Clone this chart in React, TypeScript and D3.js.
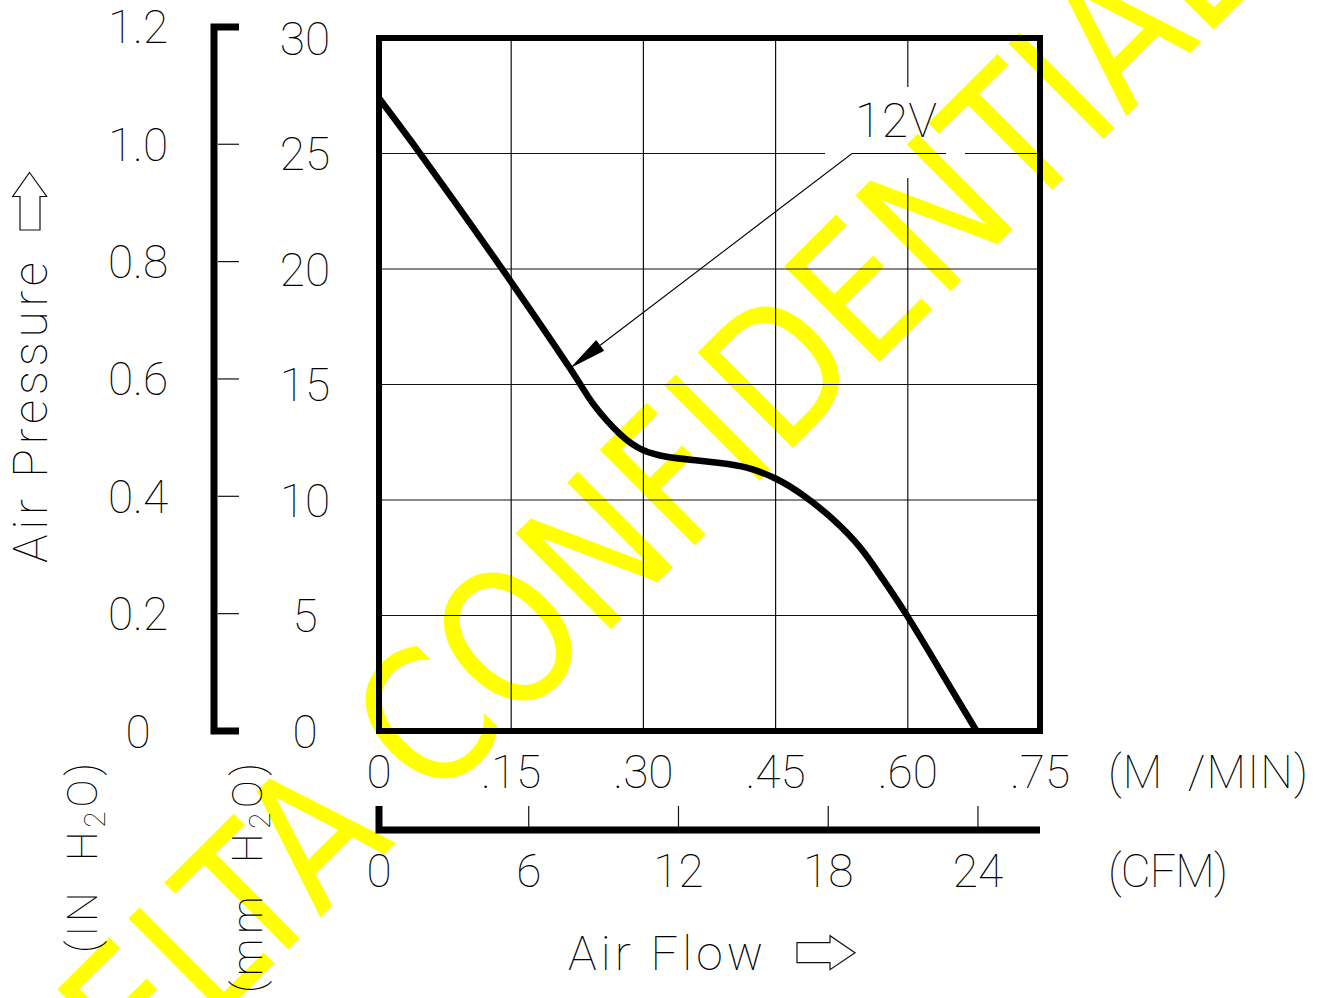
import React from 'react';
import * as d3 from 'd3';

// ---- data ----
const flowM3min = [0, 0.039, 0.088, 0.147, 0.2167, 0.2432, 0.2735, 0.30, 0.3264, 0.3566, 0.3869, 0.4172, 0.4493, 0.4814, 0.5155, 0.5458, 0.5685, 0.60, 0.644, 0.678];
const pressureMmH2O = [27.4, 25.4, 22.8, 19.6, 15.7, 14.15, 12.85, 12.15, 11.87, 11.73, 11.6, 11.4, 10.94, 10.2, 9.15, 7.95, 6.75, 4.94, 2.16, 0];
const flowTicks = [0, 0.15, 0.30, 0.45, 0.60, 0.75];
const flowTickLabels = ['0', '.15', '.30', '.45', '.60', '.75'];
const mmTicks = [0, 5, 10, 15, 20, 25, 30];
const inchTicks = [0, 0.2, 0.4, 0.6, 0.8, 1.0, 1.2];
const inchTickLabels = ['0', '0.2', '0.4', '0.6', '0.8', '1.0', '1.2'];
const cfmTicks = [0, 6, 12, 18, 24];
const curveLabel = '12V';
const annotFlow = 0.2167;
const annotPressure = 15.7;
const watermarkText = 'DELTA CONFIDENTIAL';

const FONT = "Roboto, 'DejaVu Sans', sans-serif";
const FW = 100;

export default function App() {
  const W = 1326, H = 998;
  const x = d3.scaleLinear().domain([0, 0.75]).range([379, 1040]);
  const y = d3.scaleLinear().domain([0, 30]).range([731, 38]);
  const yIn = (v: number) => y(v * 25.4);
  const xCfm = (v: number) => x(v * 0.0283168);

  const pts: [number, number][] = flowM3min.map((f, i) => [x(f), y(pressureMmH2O[i])]);
  const curvePath = d3.line().curve(d3.curveNatural)(pts) || '';

  // label box that interrupts grid lines
  const lb = { x0: 825, x1: 965, y0: 87, y1: 178 };
  const gridV = flowTicks.slice(1, -1);
  const gridH = mmTicks.slice(1, -1);

  const vSegs: [number, number, number, number][] = [];
  gridV.forEach((v) => {
    const px = x(v);
    if (px > lb.x0 && px < lb.x1) {
      vSegs.push([px, y(30), px, lb.y0]);
      vSegs.push([px, lb.y1, px, y(0)]);
    } else vSegs.push([px, y(30), px, y(0)]);
  });
  gridH.forEach((m) => {
    const py = y(m);
    if (py > lb.y0 && py < lb.y1) {
      vSegs.push([x(0), py, lb.x0, py]);
      vSegs.push([lb.x1, py, x(0.75), py]);
    } else vSegs.push([x(0), py, x(0.75), py]);
  });

  // leader
  const tip: [number, number] = [x(annotFlow), y(annotPressure)];
  const corner: [number, number] = [852, y(25)];
  const underEnd: [number, number] = [946, y(25)];
  const dx = corner[0] - tip[0], dy = corner[1] - tip[1];
  const dl = Math.hypot(dx, dy);
  const ux = dx / dl, uy = dy / dl;
  const aLen = 38, aHalf = 6.7;
  const bm: [number, number] = [tip[0] + ux * aLen, tip[1] + uy * aLen];
  const arrowHead = `M${tip[0]},${tip[1]} L${bm[0] - uy * aHalf},${bm[1] + ux * aHalf} L${bm[0] + uy * aHalf},${bm[1] - ux * aHalf} Z`;
  const leader = d3.line()([underEnd, corner, bm]) || '';

  const txt = (props: any) => (
    <text fontFamily={FONT} fontWeight={FW} fill="#000" style={{ whiteSpace: 'pre' }} {...props} />
  );

  return (
    <svg width={W} height={H} style={{ position: 'absolute', left: 0, top: 0, background: '#fff' }}>
      <rect x={0} y={0} width={W} height={H} fill="#fff" />
      {/* watermark */}
      <g transform="translate(660,580) rotate(-44.85)">
        <text x={0} y={0} textAnchor="middle" fontFamily="'DejaVu Sans', sans-serif" fontSize={185}
          fill="#FFFF00" textLength={1707} lengthAdjust="spacingAndGlyphs">{watermarkText}</text>
      </g>

      {/* grid */}
      {vSegs.map((s, i) => (
        <line key={'g' + i} x1={s[0]} y1={s[1]} x2={s[2]} y2={s[3]} stroke="#111" strokeWidth={1.2} />
      ))}
      {/* frame */}
      <rect x={x(0)} y={y(30)} width={x(0.75) - x(0)} height={y(0) - y(30)} fill="none" stroke="#000" strokeWidth={6} />

      {/* curve */}
      <path d={curvePath} fill="none" stroke="#000" strokeWidth={6.5} strokeLinejoin="round" />

      {/* leader + label */}
      <path d={leader} fill="none" stroke="#000" strokeWidth={1.1} />
      <path d={arrowHead} fill="#000" />
      {txt({ x: 855, y: 137, fontSize: 48, textLength: 82, lengthAdjust: 'spacing', children: curveLabel })}

      {/* left bracket axis (inch) */}
      <path d={`M239,${yIn(1.2)} H214 V${yIn(0)} H239`} fill="none" stroke="#000" strokeWidth={7} strokeLinejoin="miter" />
      {inchTicks.slice(1, -1).map((v) => (
        <line key={'it' + v} x1={218} x2={239} y1={yIn(v)} y2={yIn(v)} stroke="#111" strokeWidth={1.2} />
      ))}
      {inchTicks.map((v, i) => (
        <g key={'il' + v}>{txt({ x: 138, y: yIn(v) + 16.5, fontSize: 46, textAnchor: 'middle', children: inchTickLabels[i] })}</g>
      ))}
      {mmTicks.map((v) => (
        <g key={'ml' + v}>{txt({ x: 305, y: y(v) + 16.5, fontSize: 46, textAnchor: 'middle', children: String(v) })}</g>
      ))}

      {/* flow labels */}
      {flowTicks.map((v, i) => (
        <g key={'fl' + v}>{txt({ x: x(v), y: 788, fontSize: 46, textAnchor: 'middle', children: flowTickLabels[i] })}</g>
      ))}
      {txt({ x: 1108, y: 788, fontSize: 46, textLength: 200, lengthAdjust: 'spacing', children: '(M  /MIN)' })}

      {/* CFM axis */}
      <path d={`M${xCfm(0)},806 V830 H${x(0.75)}`} fill="none" stroke="#000" strokeWidth={7} strokeLinejoin="miter" />
      {cfmTicks.slice(1).map((v) => (
        <line key={'ct' + v} x1={xCfm(v)} x2={xCfm(v)} y1={806} y2={827} stroke="#111" strokeWidth={1.2} />
      ))}
      {cfmTicks.map((v) => (
        <g key={'cl' + v}>{txt({ x: xCfm(v), y: 887, fontSize: 46, textAnchor: 'middle', children: String(v) })}</g>
      ))}
      {txt({ x: 1108, y: 887, fontSize: 46, textLength: 120, lengthAdjust: 'spacing', children: '(CFM)' })}

      {/* axis titles */}
      {txt({ x: 568, y: 970, fontSize: 48, textLength: 195, lengthAdjust: 'spacing', children: 'Air Flow' })}
      <path d="M797,942.7 H830 V935.7 L855,952.7 L830,969.7 V962.7 H797 Z" fill="none" stroke="#111" strokeWidth={1.2} />

      <g transform="translate(47,563) rotate(-90)">
        {txt({ x: 0, y: 0, fontSize: 48, textLength: 301, lengthAdjust: 'spacing', children: 'Air Pressure' })}
      </g>
      <path d="M29.5,172.5 L46.7,196.5 H40 V230 H20 V196.5 H12.7 Z" fill="none" stroke="#111" strokeWidth={1.2} />

      <g transform="translate(97,953) rotate(-90)">
        <text x={0} y={0} fontFamily={FONT} fontWeight={FW} fontSize={42} textLength={190} lengthAdjust="spacing" style={{ whiteSpace: 'pre' }}>
          (IN  H<tspan fontSize={30} dy={8}>2</tspan><tspan dy={-8}>O)</tspan>
        </text>
      </g>
      <g transform="translate(262,993) rotate(-90)">
        <text x={0} y={0} fontFamily={FONT} fontWeight={FW} fontSize={42} textLength={230} lengthAdjust="spacing" style={{ whiteSpace: 'pre' }}>
          (mm  H<tspan fontSize={30} dy={8}>2</tspan><tspan dy={-8}>O)</tspan>
        </text>
      </g>
    </svg>
  );
}
